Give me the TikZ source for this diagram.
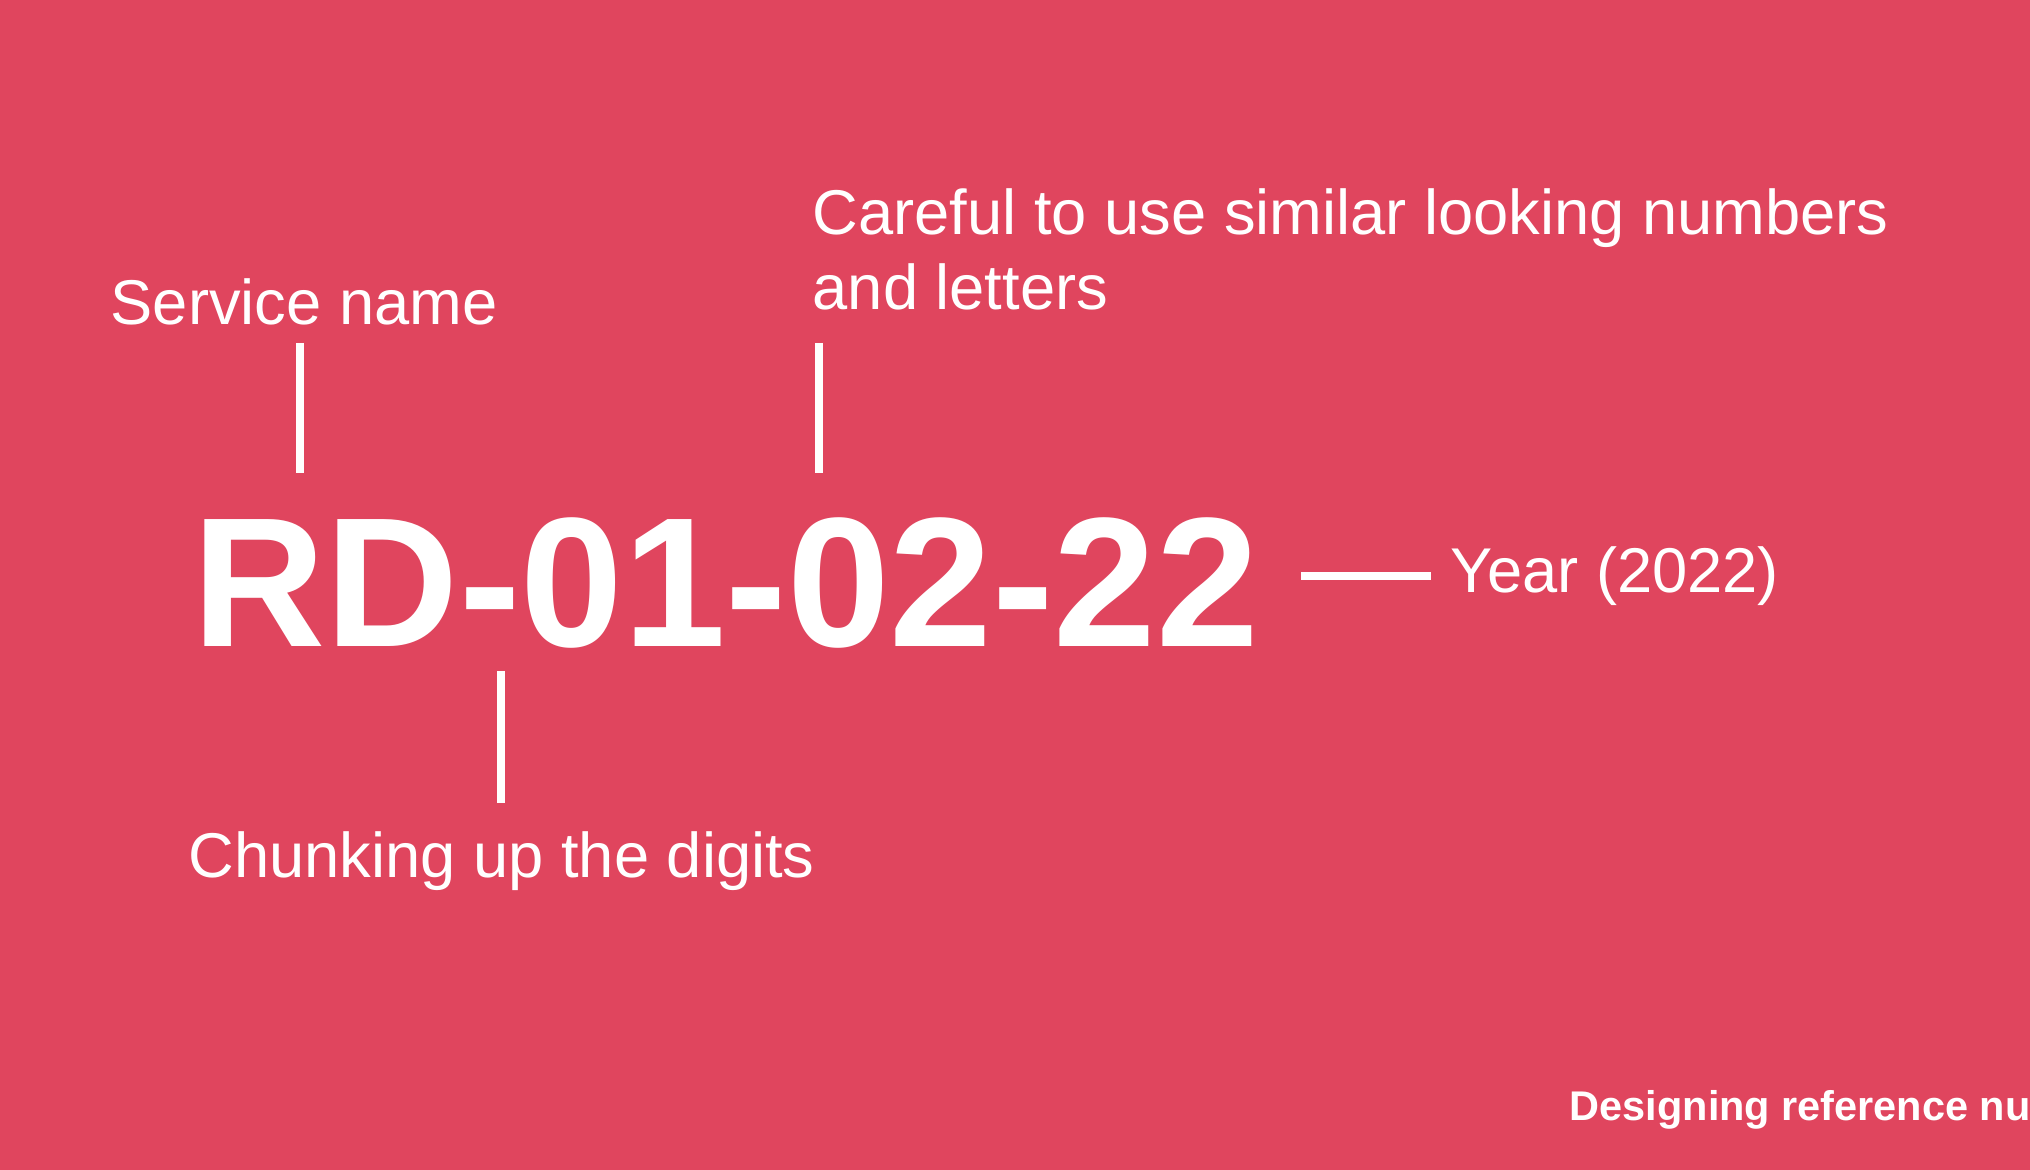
\documentclass[tikz,border=0pt]{standalone}
\usepackage{fontspec}
\setmainfont{Liberation Sans}
\definecolor{refred}{RGB}{224,69,94}
\definecolor{inkwhite}{RGB}{255,255,255}

\begin{document}
\begin{tikzpicture}[
    x=1cm,
    y=1cm,
    line cap=butt,
    tick/.style={
      draw=inkwhite,
      line width=2.2pt
    },
    codetext/.style={
      anchor=base west,
      inner sep=0pt,
      text=inkwhite,
      font=\fontsize{52.5}{60}\selectfont\bfseries
    },
    note/.style={
      anchor=west,
      inner sep=0pt,
      text=inkwhite,
      font=\fontsize{18}{21.2}\selectfont
    },
    footer/.style={
      anchor=west,
      inner sep=0pt,
      text=inkwhite,
      font=\fontsize{11.8}{14}\selectfont\bfseries
    }
]

% Canvas: fixed size, footer runs off the right edge.
\useasboundingbox (0,0) rectangle (20.30,11.70);
\fill[refred] (0,0) rectangle (20.30,11.70);
\clip (0,0) rectangle (20.30,11.70);

% The reference number itself.
\node[codetext] (code) at (1.92,5.23) {RD-01-02-22};

% Annotations.
\node[note] (service) at (1.10,8.68) {Service name};
\node[note,anchor=north west,align=left] (careful) at (8.12,9.82)
  {Careful to use similar looking numbers\\and letters};
\node[note] (chunk) at (1.88,3.09) {Chunking up the digits};
\node[note] (year) at (14.50,5.94) {Year (2022)};

% Tick ends.
\coordinate (service tick) at (3.00,8.27);
\coordinate (code svc) at (3.00,6.97);
\coordinate (careful tick) at (8.19,8.27);
\coordinate (code car) at (8.19,6.97);
\coordinate (code chk) at (5.01,4.99);
\coordinate (chunk tick) at (5.01,3.67);
\coordinate (code yr) at (13.01,5.94);

\draw[tick] (service tick) -- (code svc);
\draw[tick] (careful tick) -- (code car);
\draw[tick] (code chk) -- (chunk tick);
\draw[tick] (code yr) -- ([xshift=-1.9mm]year.west);

% Footer, cut by the page edge.
\node[footer] (title) at (15.69,0.60) {Designing reference numbers};

\end{tikzpicture}
\end{document}
